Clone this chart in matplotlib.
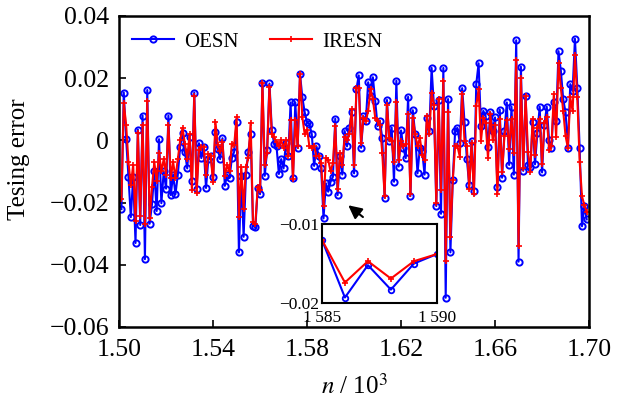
import matplotlib
matplotlib.use('Agg')
import matplotlib.pyplot as plt
import numpy as np

plt.rcParams['font.family'] = ['Liberation Serif', 'DejaVu Serif']
plt.rcParams['mathtext.fontset'] = 'stix'

# Data
n_start = 1.501
oesn = [
    -0.0221, 0.0154, 0.0005, -0.0117, -0.0247, -0.0117, -0.0330, 0.0035, -0.0272, 0.0080,
    -0.0382, 0.0162, -0.0268, -0.0206, -0.0100, -0.0227, 0.0004, -0.0202, -0.0100, -0.0155,
    0.0080, -0.0176, -0.0110, -0.0173, -0.0110, -0.0020, 0.0024, -0.0036, -0.0090, 0.0010,
    -0.0131, 0.0154, -0.0155, -0.0009, -0.0057, -0.0020, -0.0153, -0.0060, -0.0050, -0.0119,
    0.0027, -0.0027, -0.0060, 0.0007, -0.0146, -0.0110, -0.0120, -0.0057, -0.0036, 0.0058,
    -0.0360, -0.0115, -0.0310, -0.0110, -0.0036, 0.0020, -0.0274, -0.0280, -0.0153, -0.0173,
    0.0183, -0.0114, -0.0030, 0.0183, 0.0035, -0.0013, -0.0019, -0.0108, -0.0060, -0.0090,
    -0.0008, -0.0050, 0.0122, -0.0120, 0.0122, -0.0024, 0.0213, 0.0138, 0.0090, 0.0058,
    0.0053, 0.0020, -0.0082, -0.0019, -0.0050, -0.0090, -0.0251, -0.0138, -0.0165, -0.0133,
    -0.0117, 0.0070, -0.0176, -0.0050, -0.0110, 0.0030, -0.0019, 0.0041, 0.0090, -0.0106,
    0.0165, 0.0209, -0.0024, 0.0078, 0.0062, 0.0187, 0.0143, 0.0203, 0.0127, 0.0046,
    0.0062, 0.0008, -0.0184, 0.0130, -0.0003, 0.0041, -0.0133, 0.0192, -0.0084, 0.0032,
    -0.0024, -0.0057, 0.0140, -0.0179, 0.0097, 0.0020, -0.0106, -0.0024, -0.0035, -0.0110,
    0.0073, 0.0029, 0.0233, 0.0111, -0.0211, 0.0130, -0.0236, 0.0233, -0.0506, 0.0133,
    -0.0360, -0.0128, 0.0029, 0.0040, -0.0008, 0.0168, 0.0060, -0.0060, -0.0144, -0.0003,
    -0.0164, 0.0181, 0.0248, 0.0046, 0.0095, 0.0078, -0.0020, 0.0090, 0.0030, 0.0074,
    -0.0150, 0.0099, -0.0120, 0.0030, 0.0122, -0.0079, 0.0108, -0.0110, 0.0322, -0.0390,
    0.0237, -0.0098, 0.0143, -0.0079, -0.0084, 0.0060, -0.0077, 0.0024, 0.0108, -0.0103,
    0.0051, 0.0108, 0.0000, -0.0024, 0.0125, 0.0062, 0.0287, 0.0224, 0.0133, 0.0090,
    -0.0024, 0.0181, 0.0159, 0.0327, 0.0170, -0.0024, -0.0276, -0.0211, -0.0254,
]
iresn = [
    -0.0188, 0.0120, 0.0051, -0.0070, -0.0144, -0.0079, -0.0258, 0.0024, -0.0242, 0.0050,
    -0.0270, 0.0127, -0.0250, -0.0150, -0.0070, -0.0130, -0.0040, -0.0100, -0.0060, -0.0110,
    0.0050, -0.0120, -0.0070, -0.0120, -0.0060, 0.0000, 0.0040, -0.0010, -0.0060, 0.0020,
    -0.0160, 0.0143, -0.0170, -0.0030, -0.0020, -0.0020, -0.0110, -0.0045, -0.0050, -0.0135,
    0.0060, -0.0015, -0.0035, -0.0006, -0.0115, -0.0079, -0.0100, -0.0010, -0.0015, 0.0074,
    -0.0247, -0.0084, -0.0220, -0.0084, -0.0057, 0.0057, -0.0263, -0.0268, -0.0150, -0.0160,
    0.0183, -0.0079, -0.0041, 0.0172, 0.0020, 0.0010, -0.0005, -0.0019, 0.0000, -0.0024,
    0.0000, -0.0050, 0.0067, -0.0125, 0.0067, -0.0019, 0.0213, 0.0074, 0.0020, 0.0035,
    -0.0019, -0.0024, -0.0019, -0.0050, -0.0050, -0.0073, -0.0211, -0.0057, -0.0062, -0.0100,
    -0.0073, 0.0047, -0.0155, -0.0041, -0.0079, 0.0010, 0.0000, 0.0020, 0.0100, -0.0080,
    0.0170, 0.0170, -0.0008, 0.0073, 0.0062, 0.0095, 0.0165, 0.0133, 0.0073, 0.0062,
    0.0051, -0.0040, -0.0180, 0.0114, 0.0008, -0.0003, -0.0068, 0.0125, -0.0062, -0.0003,
    -0.0019, -0.0013, 0.0084, -0.0171, 0.0073, 0.0020, -0.0019, 0.0008, -0.0046, -0.0062,
    0.0078, 0.0020, 0.0154, 0.0114, -0.0200, 0.0133, -0.0160, 0.0192, -0.0388, 0.0090,
    -0.0310, -0.0128, -0.0019, -0.0019, -0.0052, 0.0149, -0.0003, -0.0019, -0.0155, -0.0008,
    -0.0171, 0.0111, 0.0165, -0.0002, 0.0073, 0.0057, -0.0057, 0.0084, 0.0002, 0.0051,
    -0.0171, 0.0070, -0.0101, 0.0014, 0.0067, -0.0027, 0.0070, -0.0041, 0.0260, -0.0338,
    0.0200, -0.0090, 0.0143, -0.0036, -0.0101, 0.0070, -0.0048, 0.0040, 0.0070, -0.0077,
    0.0057, 0.0074, -0.0030, -0.0019, 0.0149, 0.0010, 0.0248, 0.0168, 0.0095, 0.0014,
    -0.0024, 0.0138, 0.0095, 0.0273, 0.0138, -0.0068, -0.0180, -0.0208, -0.0230,
]
n = n_start + 0.001 * np.arange(len(oesn))

# zoomed window
inset_n = [1.585, 1.586, 1.587, 1.588, 1.589, 1.590]
inset_oesn = [-0.0120, -0.0193, -0.0152, -0.0183, -0.0150, -0.0138]
inset_iresn = [-0.0120, -0.0174, -0.0147, -0.0169, -0.0147, -0.0138]

xticks = [1.50, 1.54, 1.58, 1.62, 1.66, 1.70]
xticklabels = ['1.50', '1.54', '1.58', '1.62', '1.66', '1.70']
yticks = [0.04, 0.02, 0.0, -0.02, -0.04, -0.06]
yticklabels = ['0.04', '0.02', '0', '\u22120.02', '\u22120.04', '\u22120.06']

# Plot
fig = plt.figure(figsize=(6.3, 4.03), dpi=100)
ax = fig.add_axes([0.189, 0.1886, 0.746, 0.7717])

ax.plot(n, oesn, color='blue', lw=1.5, marker='o', ms=4.5, mfc='none', mew=1.4, label='OESN')
ax.plot(n, iresn, color='red', lw=1.5, marker='+', ms=4, mew=1.2, label='IRESN')

ax.set_xlim(1.50, 1.70)
ax.set_ylim(-0.06, 0.04)
ax.set_xticks(xticks, xticklabels)
ax.set_yticks(yticks, yticklabels)
ax.tick_params(direction='in', length=5, width=1.2, labelsize=18.5)
ax.tick_params(axis='x', pad=9)
ax.tick_params(axis='y', pad=7)
for s in ax.spines.values():
    s.set_linewidth(1.8)

ax.set_xlabel(r'$n$ / 10$^3$', fontsize=18)
ax.set_ylabel('Tesing error', fontsize=18)
ax.xaxis.set_label_coords(0.5, -0.15)
ax.yaxis.set_label_coords(-0.19, 0.54)

ax.legend(loc='upper left', ncol=2, frameon=False, fontsize=15, numpoints=1,
          handlelength=2.0, handletextpad=0.5, columnspacing=1.5,
          borderaxespad=0.0, bbox_to_anchor=(0.01, 0.975))

ax.annotate('', xy=(1.5966, -0.0203), xytext=(1.6047, -0.0252),
            arrowprops=dict(arrowstyle='-|>', color='k', lw=1.5, mutation_scale=20))

# Inset
axin = fig.add_axes([0.511, 0.248, 0.1825, 0.196])
axin.plot(inset_n, inset_oesn, color='blue', lw=1.5, marker='o', ms=4, mfc='none', mew=1.3)
axin.plot(inset_n, inset_iresn, color='red', lw=1.5, marker='+', ms=4, mew=1.2)
axin.set_xlim(1.585, 1.590)
axin.set_ylim(-0.02, -0.01)
axin.set_xticks([1.585, 1.590], ['1\u2009585', '1\u2009590'])
axin.set_yticks([-0.01, -0.02], ['\u22120.01', '\u22120.02'])
axin.tick_params(direction='in', length=0, labelsize=12.5)
axin.tick_params(axis='x', pad=5)
axin.tick_params(axis='y', pad=2)
for s in axin.spines.values():
    s.set_linewidth(1.5)

plt.savefig('out.png', dpi=100)
